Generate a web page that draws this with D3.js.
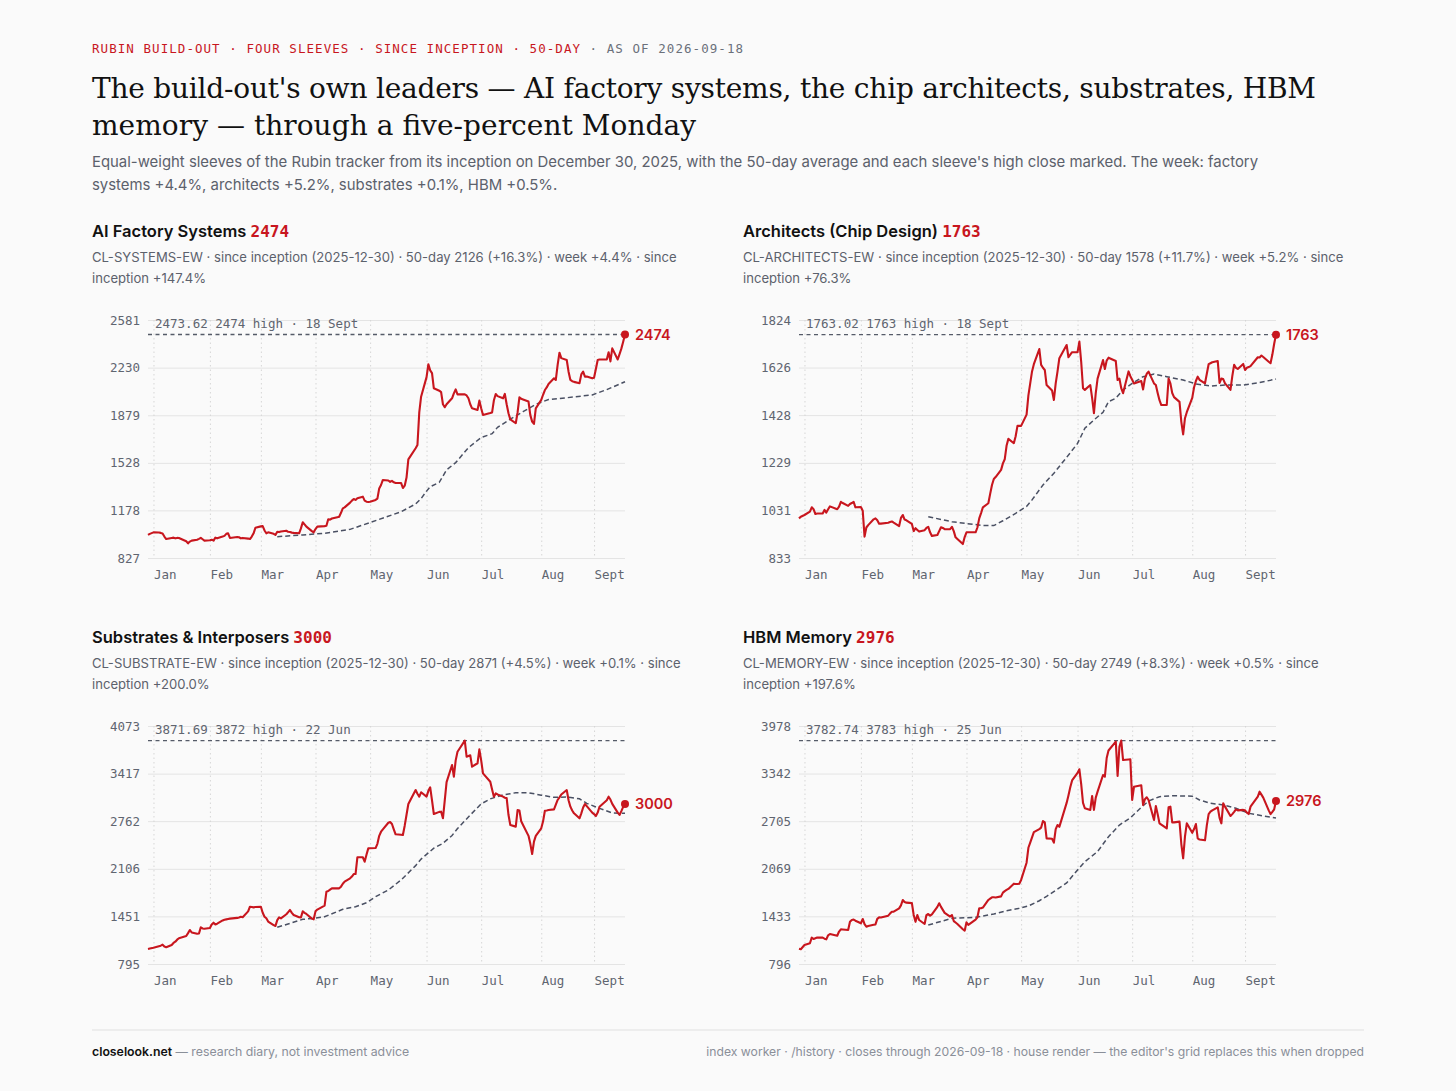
<!DOCTYPE html>
<html>
<head>
<meta charset="utf-8">
<script src="https://cdn.jsdelivr.net/npm/d3@7"></script>
<style>
  html, body { margin: 0; padding: 0; background: #fafafa; }
  svg { display: block; }
  .mono { font-family: "DejaVu Sans Mono", monospace; }
  .sans { font-family: Inter, "DejaVu Sans", sans-serif; }
  .serif { font-family: "DejaVu Serif", serif; }
</style>
</head>
<body>
<svg id="chart" width="1456" height="1091"></svg>
<script>
// trading sessions: weekdays from inception, minus exchange holidays
const holidays = ["2026-01-01", "2026-01-19", "2026-02-16", "2026-04-03", "2026-05-25", "2026-06-19", "2026-07-03", "2026-09-07"];
const monthLabels = ["Jan", "Feb", "Mar", "Apr", "May", "Jun", "Jul", "Aug", "Sept"];

// closes, one per session (Dec 30 2025 .. Sep 18 2026)
const systems = [
  997, 1005,
  1016, 1015, 1012, 1008, 985, 967, 975, 977, 972, 975, 974, 950, 935, 948, 955, 962, 968, 975, 965, 955,
  958, 962, 955, 977, 972, 985, 990, 1005, 1009, 975, 982, 980, 972, 975, 970, 967, 985, 1009, 1050,
  1060, 1062, 1030, 1009, 1016, 1005, 997, 1020, 1018, 1022, 1028, 1020, 1018, 1014, 1012, 1009, 1045, 1090, 1075, 1058, 1025, 1016,
  1040, 1058, 1062, 1065, 1112, 1110, 1118, 1128, 1131, 1160, 1193, 1200, 1235, 1250, 1262, 1255, 1268, 1279, 1250, 1242, 1240,
  1242, 1255, 1265, 1340, 1365, 1402, 1398, 1388, 1395, 1385, 1380, 1380, 1343, 1360, 1420, 1554, 1636, 1660, 1900, 2016,
  2160, 2255, 2210, 2190, 2078, 2060, 2050, 1960, 1938, 1960, 2004, 2040, 2070, 2033, 2033, 2025, 2004, 1960, 1930, 1918, 1987,
  1930, 1881, 1895, 1900, 1990, 2036, 2020, 2004, 2036, 1960, 1894, 1849, 1820, 1900, 2011, 2000, 1995, 1980, 1880, 1832, 1815, 1930,
  1992, 2030, 2065, 2084, 2110, 2151, 2139, 2250, 2340, 2300, 2286, 2200, 2139, 2130, 2125, 2115, 2180, 2200, 2164, 2164, 2151,
  2155, 2220, 2286, 2290, 2290, 2343, 2276, 2372, 2290, 2330, 2370, 2420, 2473.62
];
const architects = [
  998, 1005,
  1012, 1026, 1044, 1036, 1016, 1018, 1018, 1033, 1022, 1036, 1048, 1036, 1047, 1067, 1062, 1050, 1058, 1062, 1067, 1044,
  1045, 1030, 922, 960, 970, 994, 998, 990, 976, 976, 980, 983, 985, 980, 966, 1000, 1012, 993, 990,
  975, 945, 957, 950, 943, 949, 958, 963, 940, 925, 929, 945, 961, 958, 953, 953, 963, 945, 919, 912, 891, 920,
  940, 940, 940, 960, 998, 1020, 1044, 1061, 1100, 1137, 1162, 1170, 1200, 1227, 1244, 1300, 1329, 1311, 1340, 1383, 1383,
  1383, 1430, 1510, 1560, 1610, 1640, 1703, 1637, 1625, 1616, 1553, 1530, 1491, 1560, 1610, 1665, 1720, 1669, 1680, 1690,
  1690, 1734, 1650, 1540, 1533, 1553, 1500, 1436, 1520, 1580, 1657, 1620, 1655, 1667, 1653, 1574, 1580, 1540, 1519, 1610, 1590,
  1575, 1560, 1570, 1535, 1580, 1600, 1609, 1560, 1553, 1520, 1490, 1470, 1470, 1580, 1560, 1520, 1503, 1483, 1400, 1348, 1415, 1440,
  1500, 1544, 1570, 1588, 1575, 1560, 1600, 1640, 1644, 1648, 1653, 1562, 1580, 1578, 1560, 1533, 1590, 1637, 1625, 1620, 1641,
  1616, 1625, 1628, 1632, 1669, 1668, 1676, 1670, 1650, 1644, 1680, 1725, 1763.02
];
const substrates = [
  1002, 1008,
  1020, 1040, 1047, 1061, 1035, 1025, 1057, 1085, 1102, 1130, 1150, 1181, 1220, 1263, 1230, 1211, 1215, 1300, 1285, 1280,
  1290, 1340, 1364, 1340, 1350, 1395, 1405, 1410, 1415, 1420, 1430, 1437, 1446, 1440, 1520, 1584, 1580, 1575, 1580,
  1584, 1500, 1446, 1424, 1380, 1330, 1318, 1400, 1437, 1424, 1480, 1510, 1539, 1500, 1470, 1440, 1437, 1520, 1500, 1484, 1420, 1410,
  1520, 1545, 1600, 1791, 1800, 1820, 1837, 1837, 1837, 1860, 1900, 1929, 1975, 2000, 2034, 2034, 2265, 2265, 2204, 2300, 2388,
  2390, 2392, 2450, 2560, 2617, 2650, 2741, 2750, 2723, 2650, 2581, 2575, 2572, 2700, 2850, 2999, 3191, 3140, 3100, 3160,
  3100, 3180, 3228, 3050, 2861, 2890, 2893, 2802, 3050, 3300, 3536, 3375, 3600, 3719, 3871.69, 3650, 3660, 3670, 3512, 3560, 3752,
  3600, 3421, 3306, 3200, 3099, 3145, 3130, 3100, 3085, 3080, 2850, 2709, 2687, 2916, 2910, 2760, 2709, 2560, 2450, 2310, 2480, 2560,
  2664, 2760, 2906, 2910, 2915, 2925, 2990, 3054, 3090, 3130, 3191, 3050, 2962, 2910, 2870, 2802, 2870, 2950, 2999, 2970, 2880,
  2860, 2833, 2880, 2960, 3050, 3099, 3060, 3000, 2880, 2848, 2900, 2960, 3000
];
const memory = [
  1000, 993,
  1050, 1073, 1148, 1130, 1140, 1150, 1148, 1135, 1126, 1180, 1197, 1174, 1230, 1260, 1258, 1250, 1360, 1384, 1390, 1375,
  1340, 1398, 1330, 1295, 1305, 1320, 1325, 1400, 1420, 1418, 1442, 1470, 1495, 1495, 1540, 1580, 1652, 1625, 1616,
  1610, 1451, 1360, 1451, 1384, 1331, 1450, 1465, 1442, 1460, 1560, 1608, 1560, 1520, 1480, 1430, 1451, 1370, 1350, 1330, 1260, 1241,
  1353, 1320, 1390, 1420, 1541, 1541, 1550, 1652, 1670, 1688, 1688, 1686, 1700, 1750, 1770, 1786, 1800, 1870, 1866, 1866, 1870,
  1920, 2150, 2350, 2420, 2490, 2560, 2600, 2620, 2708, 2690, 2476, 2471, 2418, 2600, 2654, 2630, 2950, 3050, 3158, 3250,
  3350, 3399, 3200, 2950, 2878, 2856, 3042, 2856, 3020, 3100, 3323, 3300, 3550, 3650, 3770, 3309, 3700, 3782.74, 3523, 3530, 3532,
  2989, 3166, 3185, 2922, 3000, 3025, 2989, 2721, 2908, 2800, 2677, 2660, 2610, 2891, 2900, 2690, 2690, 2700, 2400, 2209, 2500, 2677,
  2550, 2600, 2668, 2476, 2460, 2450, 2650, 2800, 2832, 2850, 2891, 2750, 2677, 2945, 2900, 2775, 2800, 2830, 2864, 2850, 2856,
  2850, 2820, 2801, 2900, 3033, 3100, 3060, 3020, 2850, 2801, 2830, 2864, 2976
];

// 50-day averages, read off at roughly weekly points
const systemsMA = [
  ["2026-03-11", 984], ["2026-03-25", 997], ["2026-04-06", 1009], ["2026-04-20", 1038], ["2026-05-05", 1107],
  ["2026-05-18", 1168], ["2026-05-26", 1225], ["2026-05-29", 1265], ["2026-06-01", 1320], ["2026-06-03", 1352],
  ["2026-06-08", 1385], ["2026-06-12", 1476], ["2026-06-17", 1530], ["2026-06-24", 1640], ["2026-07-01", 1715],
  ["2026-07-07", 1743], ["2026-07-10", 1790], ["2026-07-17", 1850], ["2026-07-24", 1905], ["2026-07-31", 1960],
  ["2026-08-07", 1995], ["2026-08-17", 2008], ["2026-08-31", 2029], ["2026-09-08", 2068], ["2026-09-18", 2126]
];
const architectsMA = [
  ["2026-03-11", 1005], ["2026-03-24", 984], ["2026-04-06", 972], ["2026-04-10", 968], ["2026-04-16", 968],
  ["2026-04-21", 988], ["2026-04-28", 1019], ["2026-05-04", 1048], ["2026-05-07", 1075], ["2026-05-13", 1137],
  ["2026-05-19", 1186], ["2026-05-26", 1252], ["2026-06-01", 1310], ["2026-06-05", 1373], ["2026-06-10", 1408],
  ["2026-06-15", 1440], ["2026-06-18", 1484], ["2026-06-22", 1498], ["2026-06-26", 1533], ["2026-07-01", 1560],
  ["2026-07-07", 1588], ["2026-07-13", 1599], ["2026-07-20", 1588], ["2026-07-29", 1574], ["2026-08-05", 1558],
  ["2026-08-13", 1549], ["2026-08-21", 1553], ["2026-08-31", 1553], ["2026-09-08", 1562], ["2026-09-18", 1578]
];
const substratesMA = [
  ["2026-03-11", 1300], ["2026-03-25", 1410], ["2026-03-31", 1424], ["2026-04-06", 1446], ["2026-04-16", 1548],
  ["2026-04-23", 1584], ["2026-04-29", 1639], ["2026-05-04", 1722], ["2026-05-11", 1814], ["2026-05-18", 1952],
  ["2026-05-26", 2150], ["2026-05-29", 2240], ["2026-06-05", 2390], ["2026-06-10", 2457], ["2026-06-15", 2565],
  ["2026-06-18", 2660], ["2026-06-25", 2847], ["2026-07-01", 3000], ["2026-07-06", 3070], ["2026-07-13", 3123],
  ["2026-07-20", 3154], ["2026-07-27", 3154], ["2026-08-03", 3120], ["2026-08-10", 3091], ["2026-08-17", 3095],
  ["2026-08-24", 3070], ["2026-08-28", 3008], ["2026-09-04", 2939], ["2026-09-11", 2875], ["2026-09-18", 2871]
];
const memoryMA = [
  ["2026-03-11", 1317], ["2026-03-24", 1407], ["2026-04-06", 1420], ["2026-04-16", 1465], ["2026-04-23", 1509],
  ["2026-04-30", 1541], ["2026-05-05", 1571], ["2026-05-11", 1642], ["2026-05-15", 1700], ["2026-05-26", 1880],
  ["2026-06-01", 2053], ["2026-06-05", 2164], ["2026-06-12", 2300], ["2026-06-18", 2498], ["2026-06-24", 2654],
  ["2026-06-30", 2750], ["2026-07-06", 2890], ["2026-07-10", 2975], ["2026-07-16", 3033], ["2026-07-23", 3046],
  ["2026-08-03", 3040], ["2026-08-07", 2989], ["2026-08-13", 2945], ["2026-08-20", 2922], ["2026-08-27", 2878],
  ["2026-09-03", 2811], ["2026-09-11", 2775], ["2026-09-18", 2749]
];

// y tick labels per sleeve
const systemsTicks = [827, 1178, 1528, 1879, 2230, 2581];
const architectsTicks = [833, 1031, 1229, 1428, 1626, 1824];
const substratesTicks = [795, 1451, 2106, 2762, 3417, 4073];
const memoryTicks = [796, 1433, 2069, 2705, 3342, 3978];

const highDates = ["18 Sept", "18 Sept", "22 Jun", "25 Jun"];
const sleeveNames = ["AI Factory Systems", "Architects (Chip Design)", "Substrates & Interposers", "HBM Memory"];
const sleeveMeta = [
  ["CL-SYSTEMS-EW · since inception (2025-12-30) · 50-day 2126 (+16.3%) · week +4.4% · since", "inception +147.4%"],
  ["CL-ARCHITECTS-EW · since inception (2025-12-30) · 50-day 1578 (+11.7%) · week +5.2% · since", "inception +76.3%"],
  ["CL-SUBSTRATE-EW · since inception (2025-12-30) · 50-day 2871 (+4.5%) · week +0.1% · since", "inception +200.0%"],
  ["CL-MEMORY-EW · since inception (2025-12-30) · 50-day 2749 (+8.3%) · week +0.5% · since", "inception +197.6%"]
];

const red = "#c8161e";
const grey = "#5c616c";

const parse = d3.utcParse("%Y-%m-%d");
const fmt = d3.utcFormat("%Y-%m-%d");
const sessions = d3.utcDay.range(parse("2025-12-30"), parse("2026-09-19"))
  .filter(d => d.getUTCDay() % 6 !== 0 && !holidays.includes(fmt(d)));
const monthStarts = sessions.filter((d, i) => i > 0 && d.getUTCMonth() !== sessions[i - 1].getUTCMonth());

const svg = d3.select("#chart");
svg.append("rect").attr("width", 1456).attr("height", 1091).attr("fill", "#fafafa");

// kicker
const kicker = svg.append("text")
  .attr("class", "mono")
  .attr("x", 92).attr("y", 53)
  .attr("textLength", 651).attr("lengthAdjust", "spacing")
  .style("font-size", "12.5px");
kicker.append("tspan").attr("fill", red).text("RUBIN BUILD-OUT · FOUR SLEEVES · SINCE INCEPTION · 50-DAY");
kicker.append("tspan").attr("fill", "#6b707a").text(" · AS OF 2026-09-18");

// title
const titleLines = [
  "The build-out's own leaders — AI factory systems, the chip architects, substrates, HBM",
  "memory — through a five-percent Monday"
];
const titleWidths = [1224, 604];
titleLines.forEach((t, i) => {
  svg.append("text")
    .attr("class", "serif")
    .attr("x", 92).attr("y", 98 + i * 37)
    .attr("textLength", titleWidths[i]).attr("lengthAdjust", "spacing")
    .style("font-size", "28px").attr("fill", "#111")
    .text(t);
});

const subLines = [
  "Equal-weight sleeves of the Rubin tracker from its inception on December 30, 2025, with the 50-day average and each sleeve's high close marked. The week: factory",
  "systems +4.4%, architects +5.2%, substrates +0.1%, HBM +0.5%."
];
subLines.forEach((t, i) => {
  svg.append("text")
    .attr("class", "sans")
    .attr("x", 92).attr("y", 167 + i * 23)
    .style("font-size", "14.9px").attr("fill", grey)
    .text(t);
});

const panels = [
  { values: systems, ma: systemsMA, ticks: systemsTicks },
  { values: architects, ma: architectsMA, ticks: architectsTicks },
  { values: substrates, ma: substratesMA, ticks: substratesTicks },
  { values: memory, ma: memoryMA, ticks: memoryTicks }
];

const colX = [92, 743];
const rowY = [231, 637];
const plotW = 477, plotH = 238;

const x = d3.scaleUtc()
  .domain([sessions[0], sessions[sessions.length - 1]])
  .range([0, plotW]);

panels.forEach((p, k) => {
  const px = colX[k % 2], py = rowY[Math.floor(k / 2)];
  const last = p.values[p.values.length - 1];
  const high = d3.max(p.values);

  // heading
  const head = svg.append("text").attr("x", px).attr("y", py + 6);
  head.append("tspan").attr("class", "sans").style("font-size", "16.5px").style("font-weight", 600)
    .attr("fill", "#111").text(sleeveNames[k] + " ");
  head.append("tspan").attr("class", "mono").style("font-size", "16px").style("font-weight", 700)
    .attr("fill", red).text(Math.round(last));

  sleeveMeta[k].forEach((t, i) => {
    svg.append("text")
      .attr("class", "sans")
      .attr("x", px).attr("y", py + 31 + i * 21)
      .style("font-size", "13.1px").attr("fill", grey)
      .text(t);
  });

  const y = d3.scaleLinear()
    .domain(d3.extent(p.ticks))
    .range([plotH, 0]);

  const g = svg.append("g").attr("transform", `translate(${px + 56},${py + 89})`);

  // horizontal grid + y labels
  g.append("g")
    .call(d3.axisLeft(y).tickValues(p.ticks).tickSize(-plotW).tickPadding(8).tickFormat(d3.format("d")))
    .call(a => a.select(".domain").remove())
    .call(a => a.selectAll("line").attr("stroke", "#e4e4e4"))
    .call(a => a.selectAll("text")
      .attr("class", "mono").attr("fill", "#5f6570")
      .style("font-size", "12.5px"));

  // month grid + labels
  g.append("g")
    .call(d3.axisBottom(x).tickValues(monthStarts).tickSize(plotH).tickPadding(12)
      .tickFormat((d, i) => monthLabels[i]))
    .call(a => a.select(".domain").remove())
    .call(a => a.selectAll("line").attr("stroke", "#d6d6d6").attr("stroke-dasharray", "1.5,3"))
    .call(a => a.selectAll("text")
      .attr("class", "mono").attr("fill", "#5f6570")
      .attr("text-anchor", "start")
      .style("font-size", "12.5px"));

  // high close marker
  g.append("line")
    .attr("x1", 0).attr("x2", plotW)
    .attr("y1", y(high)).attr("y2", y(high))
    .attr("stroke", "#555b68").attr("stroke-width", 1.4).attr("stroke-dasharray", "4,3.5");
  g.append("text")
    .attr("class", "mono")
    .attr("x", 7).attr("y", y(high) - 7)
    .style("font-size", "12.5px").attr("fill", "#5f6570")
    .text(`${high.toFixed(2)} ${Math.round(high)} high · ${highDates[k]}`);

  // 50-day average
  g.append("path")
    .datum(p.ma)
    .attr("fill", "none")
    .attr("stroke", "#4a5063").attr("stroke-width", 1.5).attr("stroke-dasharray", "5,3")
    .attr("d", d3.line().x(d => x(parse(d[0]))).y(d => y(d[1])));

  // closes
  g.append("path")
    .datum(p.values)
    .attr("fill", "none")
    .attr("stroke", red).attr("stroke-width", 2.1)
    .attr("stroke-linejoin", "round")
    .attr("d", d3.line().x((d, i) => x(sessions[i])).y(d => y(d)));

  g.append("circle")
    .attr("cx", x(sessions[sessions.length - 1])).attr("cy", y(last))
    .attr("r", 4).attr("fill", red);
  g.append("text")
    .attr("class", "sans")
    .attr("x", plotW + 10).attr("y", y(last)).attr("dy", "0.35em")
    .style("font-size", "14.5px").style("font-weight", 600).attr("fill", red)
    .text(Math.round(last));
});

// footer
svg.append("line")
  .attr("x1", 92).attr("x2", 1364).attr("y1", 1030).attr("y2", 1030)
  .attr("stroke", "#e0e0e0");
const foot = svg.append("text").attr("class", "sans").attr("x", 92).attr("y", 1056).style("font-size", "12.3px");
foot.append("tspan").attr("fill", "#111").style("font-weight", 600).text("closelook.net");
foot.append("tspan").attr("fill", "#8a8f99").text(" — research diary, not investment advice");
svg.append("text")
  .attr("class", "sans")
  .attr("x", 1364).attr("y", 1056).attr("text-anchor", "end")
  .style("font-size", "12.2px").attr("fill", "#8a8f99")
  .text("index worker · /history · closes through 2026-09-18 · house render — the editor's grid replaces this when dropped");
</script>
</body>
</html>
